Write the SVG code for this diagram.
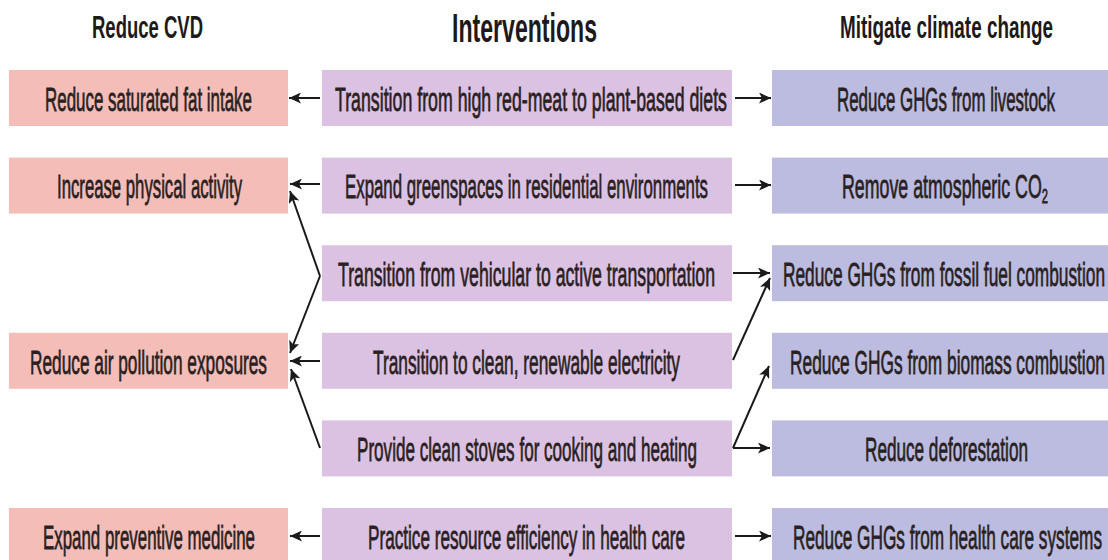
<svg xmlns="http://www.w3.org/2000/svg" width="1108" height="560" viewBox="0 0 1108 560">
<defs>
<style>
.bg{fill:#ffffff}
.cvd{fill:#f4bdb8}
.int{fill:#dcc2e2}
.cc{fill:#bbbce0}
.t{font-family:"Liberation Sans",Arial,sans-serif;font-size:17.5px;fill:#2a1f22;stroke:#2a1f22;stroke-width:0.4}
.h{font-family:"Liberation Sans",Arial,sans-serif;font-weight:bold;fill:#1e1a1a}
.c{stroke:#1a1a1a;stroke-width:2;fill:none;marker-end:url(#ah)}
</style>
<marker id="ah" markerUnits="userSpaceOnUse" markerWidth="13" markerHeight="11" refX="12" refY="5.5" orient="auto">
<path d="M0,0 L12,5.5 L0,11 L3,5.5 Z" fill="#1a1a1a"/>
</marker>
</defs>
<rect class="bg" x="0" y="0" width="1108" height="560"/>

<g id="headers">
<text class="h" font-size="19" transform="matrix(1 0 0 1.684 92 38)" textLength="111" lengthAdjust="spacingAndGlyphs">Reduce CVD</text>
<text class="h" font-size="23" transform="matrix(1 0 0 1.75 452 42)" textLength="145" lengthAdjust="spacingAndGlyphs">Interventions</text>
<text class="h" font-size="19" transform="matrix(1 0 0 1.684 840 38)" textLength="213" lengthAdjust="spacingAndGlyphs">Mitigate climate change</text>
</g>

<g id="cvd1"><rect class="cvd" x="9" y="70" width="279" height="56"/><text class="t" transform="matrix(1 0 0 1.886 45 110.5)" textLength="207" lengthAdjust="spacingAndGlyphs">Reduce saturated fat intake</text></g>
<g id="cvd2"><rect class="cvd" x="9" y="157.6" width="279" height="56"/><text class="t" transform="matrix(1 0 0 1.886 57 198)" textLength="185" lengthAdjust="spacingAndGlyphs">Increase physical activity</text></g>
<g id="cvd3"><rect class="cvd" x="9" y="332.8" width="279" height="56"/><text class="t" transform="matrix(1 0 0 1.886 30 373.5)" textLength="237" lengthAdjust="spacingAndGlyphs">Reduce air pollution exposures</text></g>
<g id="cvd4"><rect class="cvd" x="9" y="508" width="279" height="56"/><text class="t" transform="matrix(1 0 0 1.886 43 548.5)" textLength="212" lengthAdjust="spacingAndGlyphs">Expand preventive medicine</text></g>

<g id="int1"><rect class="int" x="322" y="70" width="410" height="56"/><text class="t" transform="matrix(1 0 0 1.886 335 110.5)" textLength="392" lengthAdjust="spacingAndGlyphs">Transition from high red-meat to plant-based diets</text></g>
<g id="int2"><rect class="int" x="322" y="157.6" width="410" height="56"/><text class="t" transform="matrix(1 0 0 1.886 345 198)" textLength="363" lengthAdjust="spacingAndGlyphs">Expand greenspaces in residential environments</text></g>
<g id="int3"><rect class="int" x="322" y="245.2" width="410" height="56"/><text class="t" transform="matrix(1 0 0 1.886 338 285.7)" textLength="377" lengthAdjust="spacingAndGlyphs">Transition from vehicular to active transportation</text></g>
<g id="int4"><rect class="int" x="322" y="332.8" width="410" height="56"/><text class="t" transform="matrix(1 0 0 1.886 373 373.5)" textLength="307" lengthAdjust="spacingAndGlyphs">Transition to clean, renewable electricity</text></g>
<g id="int5"><rect class="int" x="322" y="420.4" width="410" height="56"/><text class="t" transform="matrix(1 0 0 1.886 357 461)" textLength="340" lengthAdjust="spacingAndGlyphs">Provide clean stoves for cooking and heating</text></g>
<g id="int6"><rect class="int" x="322" y="508" width="410" height="56"/><text class="t" transform="matrix(1 0 0 1.886 368 548.5)" textLength="317" lengthAdjust="spacingAndGlyphs">Practice resource efficiency in health care</text></g>

<g id="cc1"><rect class="cc" x="772" y="70" width="336" height="56"/><text class="t" transform="matrix(1 0 0 1.886 837 110.5)" textLength="218" lengthAdjust="spacingAndGlyphs">Reduce GHGs from livestock</text></g>
<g id="cc2"><rect class="cc" x="772" y="157.6" width="336" height="56"/><text class="t" transform="matrix(1 0 0 1.886 842 198)" textLength="206" lengthAdjust="spacingAndGlyphs">Remove atmospheric CO<tspan font-size="11" dy="2.5">2</tspan></text></g>
<g id="cc3"><rect class="cc" x="772" y="245.2" width="336" height="56"/><text class="t" transform="matrix(1 0 0 1.886 783 285.7)" textLength="322" lengthAdjust="spacingAndGlyphs">Reduce GHGs from fossil fuel combustion</text></g>
<g id="cc4"><rect class="cc" x="772" y="332.8" width="336" height="56"/><text class="t" transform="matrix(1 0 0 1.886 790 373.5)" textLength="315" lengthAdjust="spacingAndGlyphs">Reduce GHGs from biomass combustion</text></g>
<g id="cc5"><rect class="cc" x="772" y="420.4" width="336" height="56"/><text class="t" transform="matrix(1 0 0 1.886 865 461)" textLength="163" lengthAdjust="spacingAndGlyphs">Reduce deforestation</text></g>
<g id="cc6"><rect class="cc" x="772" y="508" width="336" height="56"/><text class="t" transform="matrix(1 0 0 1.886 793 548.5)" textLength="309" lengthAdjust="spacingAndGlyphs">Reduce GHGs from health care systems</text></g>

<g id="connectors">
<line class="c" x1="320" y1="98" x2="289" y2="98"/>
<line class="c" x1="320" y1="184" x2="290" y2="184"/>
<line class="c" x1="320" y1="276" x2="290" y2="191"/>
<line class="c" x1="320" y1="276" x2="290" y2="353"/>
<line class="c" x1="320" y1="361" x2="290" y2="361"/>
<line class="c" x1="320" y1="448" x2="291" y2="369"/>
<line class="c" x1="320" y1="536" x2="290" y2="536"/>
<line class="c" x1="735" y1="98" x2="771" y2="98"/>
<line class="c" x1="735" y1="185" x2="771" y2="185"/>
<line class="c" x1="733" y1="273" x2="770" y2="273"/>
<line class="c" x1="733" y1="360" x2="770" y2="278"/>
<line class="c" x1="733" y1="448" x2="769" y2="366"/>
<line class="c" x1="733" y1="448" x2="770" y2="448"/>
<line class="c" x1="735" y1="536" x2="771" y2="536"/>
</g>
</svg>
